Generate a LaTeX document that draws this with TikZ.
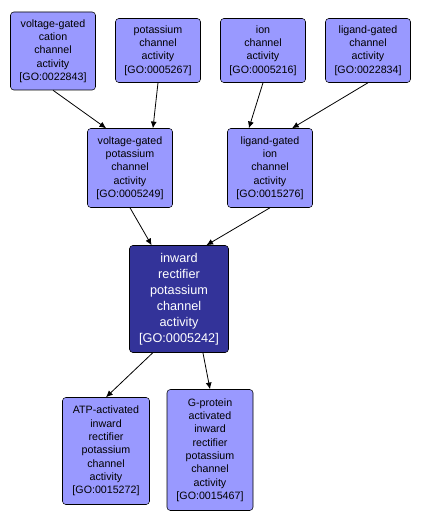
\documentclass[tikz,border=0pt]{standalone}
\usepackage{fontspec}
\setmainfont{Liberation Sans}
\usetikzlibrary{arrows.meta}
\definecolor{termfill}{RGB}{153,153,255}
\definecolor{focusfill}{RGB}{51,51,153}
\tikzset{
  term/.style={draw=black, fill=termfill, rounded corners=2.5pt, align=center,
    inner sep=0pt, minimum width=63.75pt, font=\fontsize{8}{10}\selectfont},
  focus/.style={term, fill=focusfill, text=white, minimum width=74.25pt,
    minimum height=80.25pt, font=\fontsize{9.5}{12}\selectfont},
  isa/.style={-{Latex[length=5pt,width=4.5pt]}, line width=0.6pt},
}
\begin{document}
\begin{tikzpicture}[x=0.75pt, y=-0.75pt]
  % page frame (pixels of the reference)
  \useasboundingbox (0,0) rectangle (421,524);
  % top row
  \node[term, minimum height=58.5pt] (vgcation) at (53,51)
    {voltage-gated\\cation\\channel\\activity\\{[GO:0022843]}};
  \node[term, minimum height=48pt] (kchan) at (158,50.5)
    {potassium\\channel\\activity\\{[GO:0005267]}};
  \node[term, minimum height=48pt] (ionchan) at (263,50.5)
    {ion\\channel\\activity\\{[GO:0005216]}};
  \node[term, minimum height=48pt] (lgchan) at (368,50.5)
    {ligand-gated\\channel\\activity\\{[GO:0022834]}};
  % middle row
  \node[term, minimum height=59.25pt] (vgk) at (130,168)
    {voltage-gated\\potassium\\channel\\activity\\{[GO:0005249]}};
  \node[term, minimum height=59.25pt] (lgion) at (270,168)
    {ligand-gated\\ion\\channel\\activity\\{[GO:0015276]}};
  % the term itself
  \node[focus] (kir) at (179,299)
    {inward\\rectifier\\potassium\\channel\\activity\\{[GO:0005242]}};
  % children
  \node[term, minimum width=65.25pt, minimum height=80.25pt] (atpkir) at (106,451)
    {ATP-activated\\inward\\rectifier\\potassium\\channel\\activity\\{[GO:0015272]}};
  \node[term, minimum width=64.5pt, minimum height=90.75pt] (gkir) at (210,450)
    {G-protein\\activated\\inward\\rectifier\\potassium\\channel\\activity\\{[GO:0015467]}};
  % is_a edges
  \draw[isa] (vgcation.south) -- (vgk.121);
  \draw[isa] (kchan.south) -- (vgk.60);
  \draw[isa] (ionchan.south) -- (lgion.118);
  \draw[isa] (lgchan.south) -- (lgion.61);
  \draw[isa] (vgk.south) -- (kir.117);
  \draw[isa] (lgion.south) -- (kir.63);
  \draw[isa] (kir.244) -- (atpkir.north);
  \draw[isa] (kir.294) -- (gkir.north);
\end{tikzpicture}
\end{document}
